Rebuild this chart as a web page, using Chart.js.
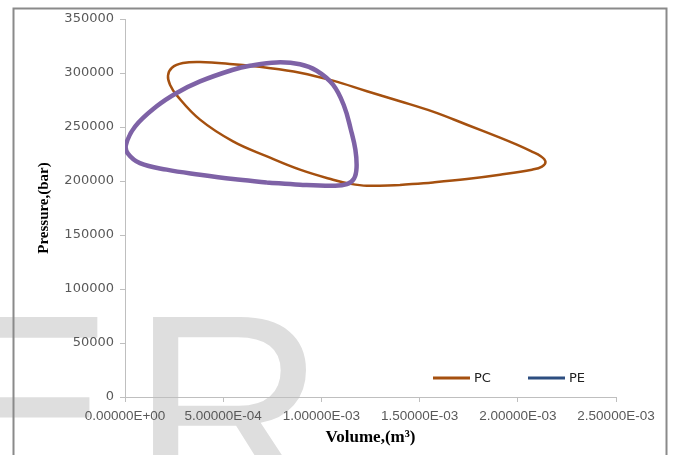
<!DOCTYPE html>
<html>
<head>
<meta charset="utf-8">
<script src="https://cdn.jsdelivr.net/npm/chart.js@4/dist/chart.umd.min.js"></script>
<style>
  html, body { margin: 0; padding: 0; background: #fff; }
  #wrap { width: 673px; height: 455px; }
</style>
</head>
<body>
<div id="wrap"><canvas id="pvChart" width="673" height="455"></canvas></div>
<script>
// PC loop (volume m3, pressure bar), starts mid-way along the bottom edge
const pcVolume = [1.400e-3, 1.568e-3, 1.741e-3, 1.909e-3, 2.072e-3, 2.123e-3, 2.141e-3, 2.117e-3, 2.067e-3, 1.995e-3,
    1.909e-3, 1.741e-3, 1.568e-3, 1.400e-3, 1.232e-3, 1.059e-3, 8.91e-4, 7.23e-4, 5.50e-4, 3.82e-4,
    2.95e-4, 2.39e-4, 2.19e-4, 2.29e-4, 2.65e-4, 3.82e-4, 5.50e-4, 7.23e-4, 8.91e-4, 1.059e-3,
    1.145e-3, 1.232e-3, 1.400e-3];
const pcPressure = [196300, 198700, 201800, 205800, 210500, 213300, 217900, 223000, 227600, 233600,
    240100, 252100, 264200, 273900, 283100, 292900, 300300, 304900, 308100, 310200,
    309200, 304900, 297500, 289200, 279000, 256800, 236700, 222800, 210500, 201200,
    197500, 195600, 196300];

// PE loop, also starts on the bottom edge
const peVolume = [7.21e-4, 8.91e-4, 1.059e-3, 1.130e-3, 1.166e-3, 1.179e-3, 1.173e-3, 1.150e-3, 1.115e-3, 1.059e-3,
    9.76e-4, 8.91e-4, 7.72e-4, 6.36e-4, 5.50e-4, 3.82e-4, 2.63e-4, 1.61e-4, 5.1e-5, 5.1e-6,
    1.5e-5, 7.6e-5, 2.12e-4, 3.82e-4, 5.50e-4, 7.21e-4];
const pePressure = [198700, 196600, 195600, 197000, 202100, 212300, 229000, 247500, 269700, 289200,
    302100, 308100, 309800, 306700, 303000, 292200, 281500, 269100, 250300, 233600,
    225300, 216500, 210500, 205800, 201800, 198700];

const xTicks = [0, 5e-4, 1e-3, 1.5e-3, 2e-3, 2.5e-3];
const yTicks = [0, 50000, 100000, 150000, 200000, 250000, 300000, 350000];

const seriesNames = ['PC', 'PE'];
const lineColors = ['#A5500F', '#7E62A6'];
const legendColors = ['#A5500F', '#2D4E80'];

function toPoints(xs, ys) {
    return xs.map((x, i) => ({ x: x, y: ys[i] }));
}

function sciLabel(v) {
    const [m, e] = Number(v).toExponential(5).split('e');
    const n = parseInt(e, 10);
    const sign = n < 0 ? '-' : '+';
    return m + 'E' + sign + String(Math.abs(n)).padStart(2, '0');
}

// light grey watermark letters and the outer frame, behind everything
const backdrop = {
    id: 'backdrop',
    beforeDraw(chart) {
        const ctx = chart.ctx;
        ctx.save();
        ctx.fillStyle = '#dedede';
        ctx.font = '270px "Liberation Sans", Arial, sans-serif';
        ctx.textAlign = 'left';
        ctx.textBaseline = 'alphabetic';
        const mE = ctx.measureText('E');
        ctx.fillText('E', 103 - mE.actualBoundingBoxRight, 313 + mE.actualBoundingBoxAscent);
        const mR = ctx.measureText('R');
        ctx.fillText('R', 152 + mR.actualBoundingBoxLeft, 313 + mR.actualBoundingBoxAscent);
        ctx.strokeStyle = '#8a8a8a';
        ctx.lineWidth = 2;
        ctx.strokeRect(13.5, 8.5, 653, 460);
        ctx.restore();
    }
};

// legend sits inside the plot, lower right
const insideLegend = {
    id: 'insideLegend',
    afterDraw(chart) {
        const ctx = chart.ctx;
        const area = chart.chartArea;
        const y = area.bottom - 19;
        const starts = [area.left + 308, area.left + 403];
        ctx.save();
        ctx.font = '13px "DejaVu Sans", sans-serif';
        ctx.textBaseline = 'middle';
        ctx.fillStyle = '#222';
        seriesNames.forEach((name, i) => {
            ctx.strokeStyle = legendColors[i];
            ctx.lineWidth = 3;
            ctx.beginPath();
            ctx.moveTo(starts[i], y);
            ctx.lineTo(starts[i] + 37, y);
            ctx.stroke();
            ctx.fillText(name, starts[i] + 41, y + 0.5);
        });
        ctx.restore();
    }
};

const axisGrey = '#bfbfbf';
const tickGrey = '#595959';

new Chart(document.getElementById('pvChart'), {
    type: 'scatter',
    data: {
        datasets: [
            {
                label: seriesNames[0],
                data: toPoints(pcVolume, pcPressure),
                showLine: true,
                borderColor: lineColors[0],
                borderWidth: 2.5,
                pointRadius: 0,
                tension: 0.4,
                order: 2,
            },
            {
                label: seriesNames[1],
                data: toPoints(peVolume, pePressure),
                showLine: true,
                borderColor: lineColors[1],
                borderWidth: 4.5,
                pointRadius: 0,
                tension: 0.4,
                order: 1,
            },
        ],
    },
    options: {
        responsive: false,
        animation: false,
        layout: { padding: { left: 20, right: 57, top: 19, bottom: 0 } },
        plugins: {
            legend: { display: false },
            tooltip: { enabled: false },
        },
        scales: {
            x: {
                type: 'linear',
                min: 0,
                max: 2.5e-3,
                afterBuildTicks: (scale) => { scale.ticks = xTicks.map(v => ({ value: v })); },
                afterFit: (scale) => { scale.height = 58; },
                ticks: {
                    callback: (v) => sciLabel(v),
                    color: tickGrey,
                    font: { family: '"Liberation Sans", Arial, sans-serif', size: 13.5 },
                    padding: 6,
                    maxRotation: 0,
                    autoSkip: false,
                },
                grid: { drawOnChartArea: false, drawTicks: true, tickLength: 5, color: axisGrey },
                border: { color: axisGrey, width: 1 },
                title: {
                    display: true,
                    text: 'Volume,(m³)',
                    color: '#000',
                    font: { family: '"Liberation Serif", "Times New Roman", serif', size: 17, weight: 'bold' },
                    padding: { top: 0, bottom: 7 },
                },
            },
            y: {
                type: 'linear',
                min: 0,
                max: 350000,
                afterBuildTicks: (scale) => { scale.ticks = yTicks.map(v => ({ value: v })); },
                afterFit: (scale) => { scale.width = 105; },
                ticks: {
                    callback: (v) => String(v),
                    color: tickGrey,
                    font: { family: '"DejaVu Sans", sans-serif', size: 13 },
                    padding: 6,
                },
                grid: { drawOnChartArea: false, drawTicks: true, tickLength: 5, color: axisGrey },
                border: { color: axisGrey, width: 1 },
                title: {
                    display: true,
                    text: 'Pressure,(bar)',
                    color: '#000',
                    font: { family: '"Liberation Serif", "Times New Roman", serif', size: 15, weight: 'bold' },
                    padding: { top: 15, bottom: 0 },
                },
            },
        },
    },
    plugins: [backdrop, insideLegend],
});
</script>
</body>
</html>
